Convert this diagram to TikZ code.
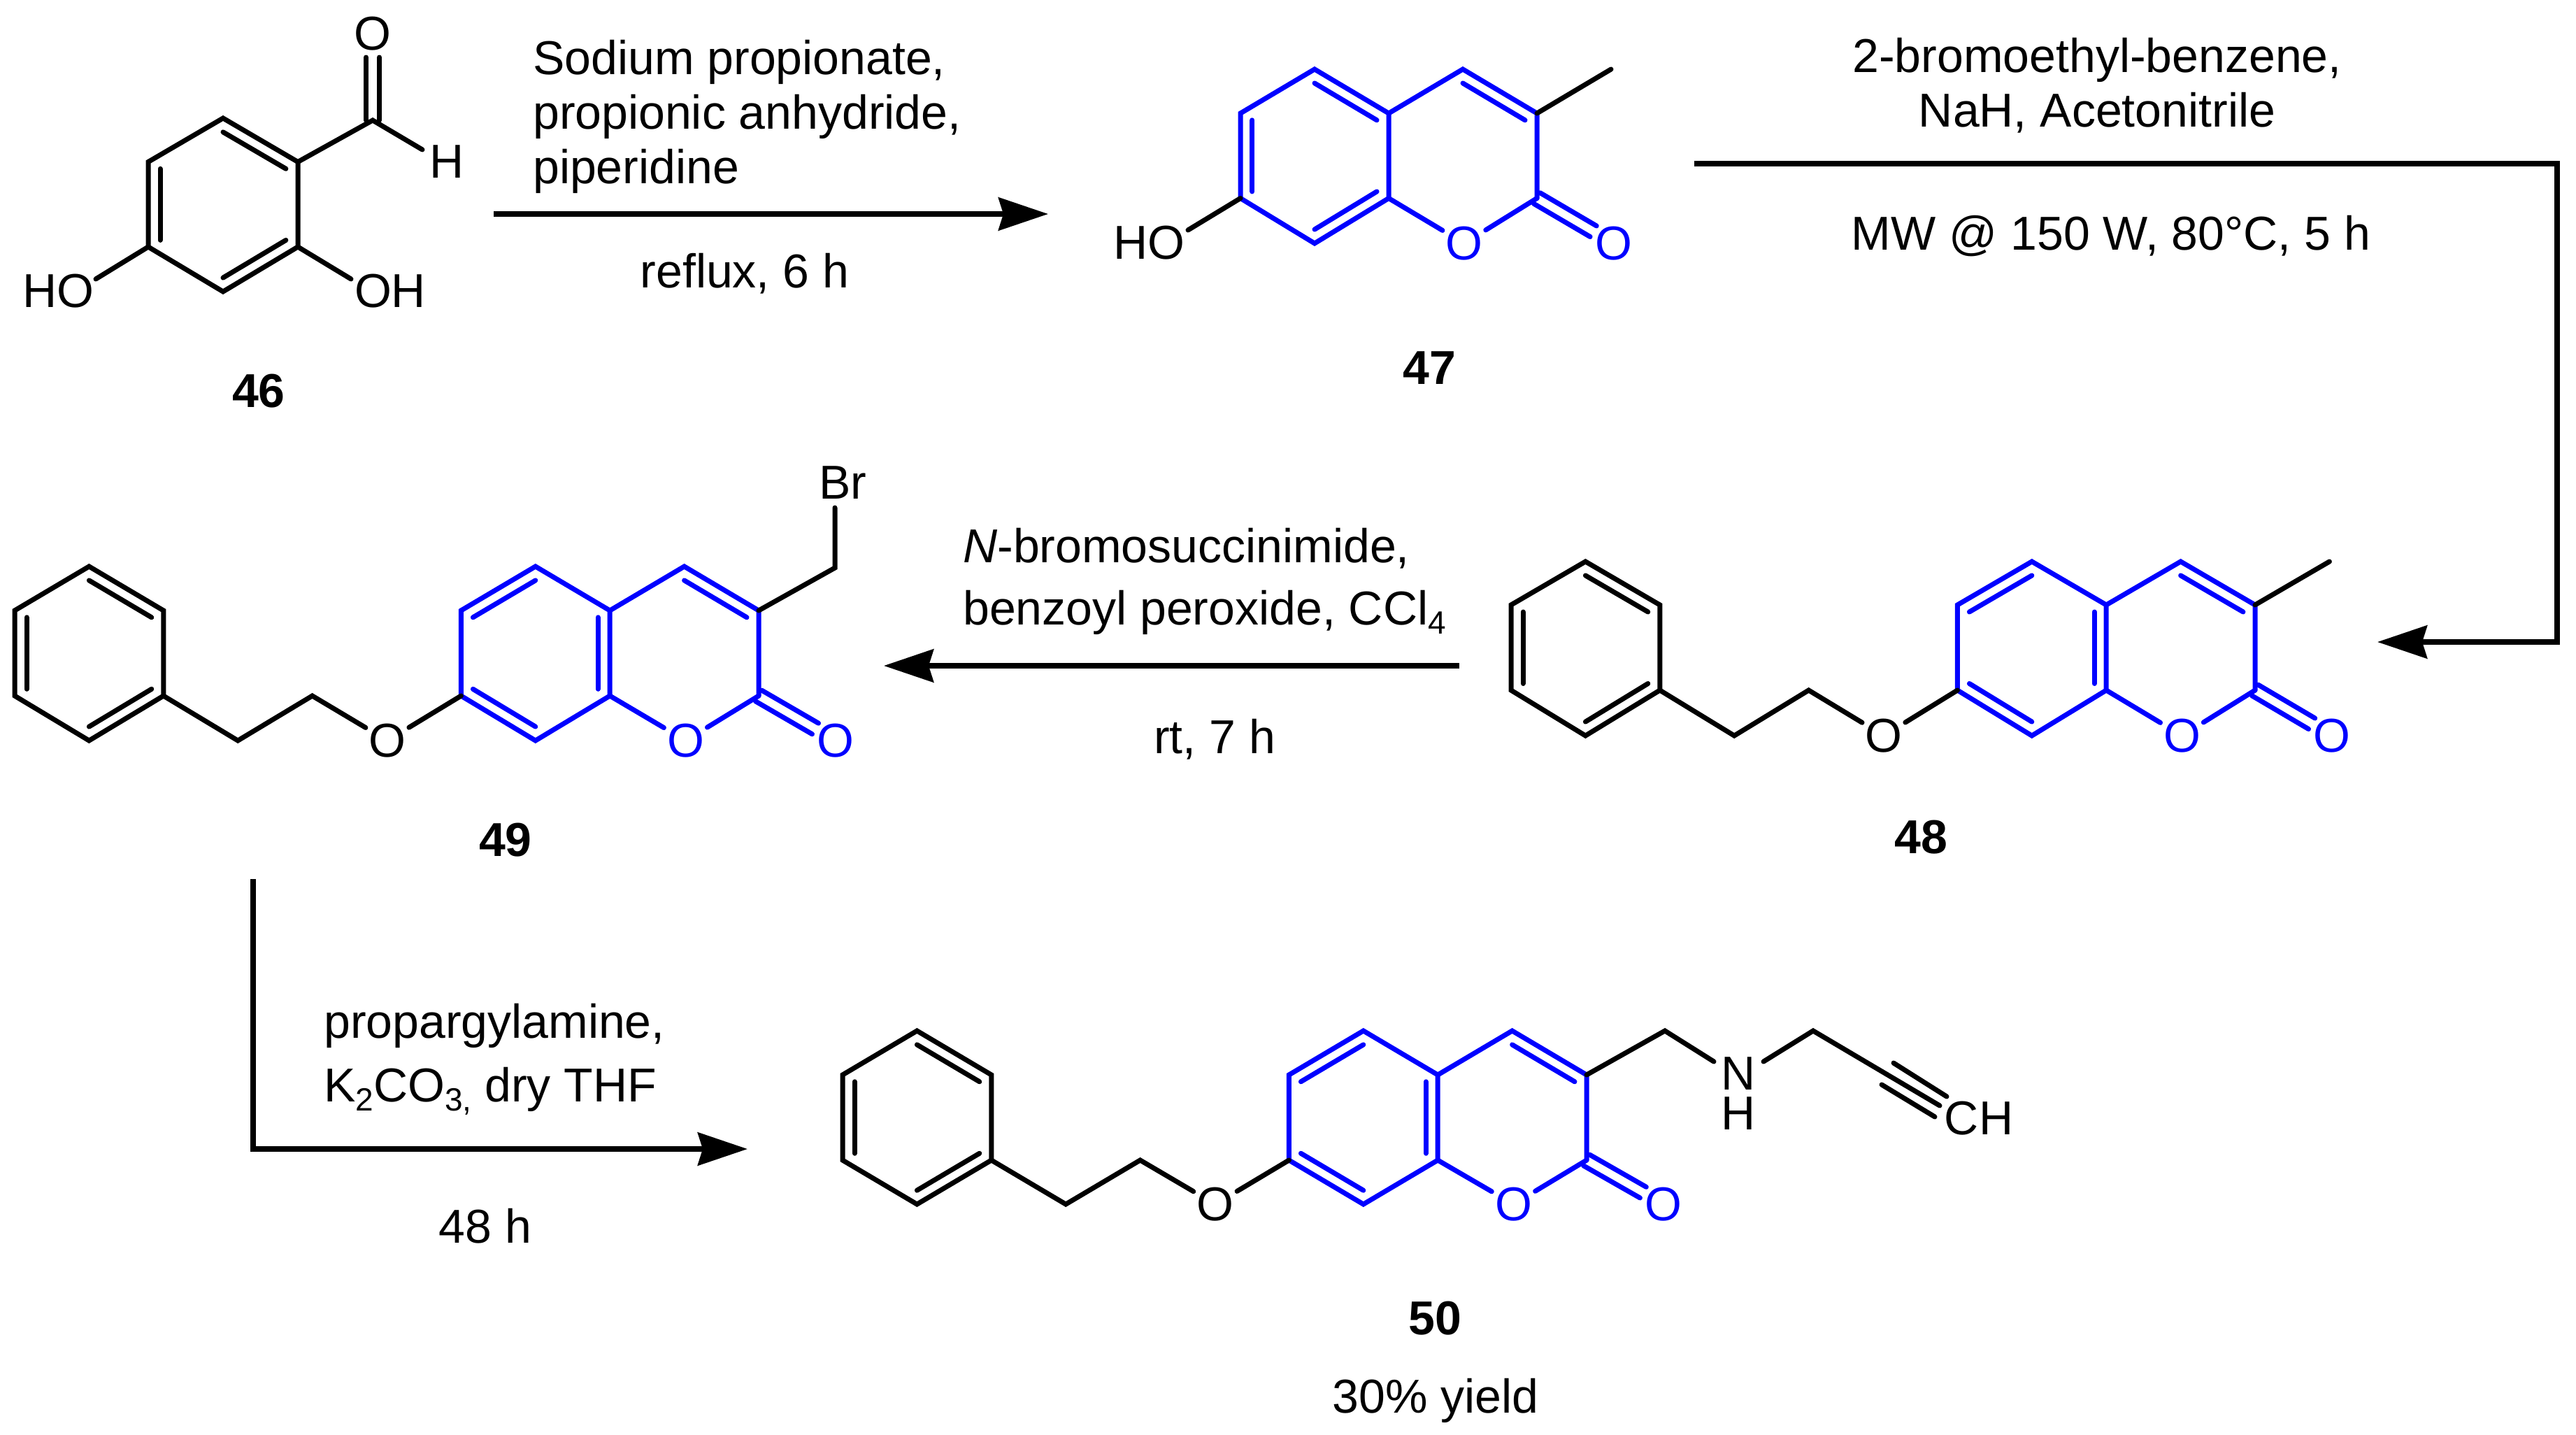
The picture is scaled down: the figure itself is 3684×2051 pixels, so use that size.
\documentclass[tikz,border=0pt]{standalone}
\usepackage{fontspec}
\setmainfont{Liberation Sans}
\usetikzlibrary{calc,arrows.meta}
\definecolor{cblue}{RGB}{0,0,255}
\tikzset{
  bond/.style={line width=7pt,black,line cap=round,line join=miter},
  bbond/.style={bond,cblue},
  atomO/.style={circle,inner sep=0pt,minimum size=72pt,font=\fontsize{68}{78}\selectfont},
  txt/.style={inner sep=0pt,align=center,font=\fontsize{68}{78}\selectfont},
  lab/.style={inner sep=0pt,font=\fontsize{68}{78}\selectfont\bfseries},
  rxn/.style={line width=7.5pt,black,line join=miter,-{Stealth[length=71pt,width=47pt,inset=7pt]}}
}
\newcommand{\grid}[7]{%
  \foreach \k in {0,...,11}{\foreach \r/\y in {0/#4,1/#5,2/#6,3/#7}{%
    \coordinate (#1-\k-\r) at ({#2+\k*#3},\y);}}}
\newcommand{\innerb}[4]{\draw[#1] ($(#2)!.16!(#4)$) -- ($(#3)!.16!(#4)$);}
\newcommand{\exoO}[4]{% style, carbon, oxygen node, half spacing
  \draw[#1,shorten >=34pt] ($(#2)!#4!90:(#3.center)$) -- ($(#3.center)!#4!-90:(#2)$);
  \draw[#1,shorten >=34pt] ($(#2)!#4!-90:(#3.center)$) -- ($(#3.center)!#4!90:(#2)$);}
\newcommand{\phenyl}[1]{%
  \coordinate (#1-cp) at ($(#1-1-0)!.5!(#1-1-3)$);
  \draw[bond] (#1-0-1) -- (#1-1-0) -- (#1-2-1) -- (#1-2-2) -- (#1-1-3) -- (#1-0-2) -- cycle;
  \innerb{bond}{#1-0-1}{#1-0-2}{#1-cp}
  \innerb{bond}{#1-1-0}{#1-2-1}{#1-cp}
  \innerb{bond}{#1-2-2}{#1-1-3}{#1-cp}}
\newcommand{\coumcore}[1]{%
  \coordinate (#1-ca) at ($(#1-7-0)!.5!(#1-7-3)$);
  \coordinate (#1-cb) at ($(#1-9-0)!.5!(#1-9-3)$);
  \node[atomO,text=cblue,xshift=2pt] (#1-Or) at (#1-9-3) {O};
  \node[atomO,text=cblue,xshift=4pt] (#1-Oe) at (#1-11-3) {O};
  \draw[bbond] (#1-6-1) -- (#1-7-0) -- (#1-8-1) -- (#1-8-2) -- (#1-7-3) -- (#1-6-2) -- cycle;
  \draw[bbond] (#1-8-1) -- (#1-9-0) -- (#1-10-1) -- (#1-10-2);
  \draw[bbond] (#1-8-2) -- (#1-Or);
  \draw[bbond] (#1-10-2) -- (#1-Or);
  \innerb{bbond}{#1-9-0}{#1-10-1}{#1-cb}
  \exoO{bbond}{#1-10-2}{#1-Oe}{9pt}}
\newcommand{\coumA}[1]{\coumcore{#1}%
  \innerb{bbond}{#1-7-0}{#1-8-1}{#1-ca}
  \innerb{bbond}{#1-6-1}{#1-6-2}{#1-ca}
  \innerb{bbond}{#1-7-3}{#1-8-2}{#1-ca}}
\newcommand{\coumB}[1]{\coumcore{#1}%
  \innerb{bbond}{#1-6-1}{#1-7-0}{#1-ca}
  \innerb{bbond}{#1-8-1}{#1-8-2}{#1-ca}
  \innerb{bbond}{#1-6-2}{#1-7-3}{#1-ca}}
\newcommand{\ether}[1]{%
  \node[atomO,xshift=1pt] (#1-Oa) at (#1-5-3) {O};
  \draw[bond] (#1-2-2) -- (#1-3-3) -- (#1-4-2) -- (#1-Oa);
  \draw[bond] (#1-Oa) -- (#1-6-2);}
\newcommand{\sbt}[1]{\raisebox{-13pt}{\fontsize{46}{46}\selectfont #1}}
\begin{document}
\begin{tikzpicture}[x=1pt,y=-1pt]
\useasboundingbox (0,0) rectangle (3684,2051);
% ---- 46
\grid{a}{-430}{107}{169}{231.5}{353}{417}
\coordinate (a-c) at ($(a-7-0)!.5!(a-7-3)$);
\node[atomO] (a-O) at (533,48) {O};
\node[txt] (a-H) at (639,231) {H};
\node[txt] (a-HO) at (83,416) {HO};
\node[txt] (a-OH) at (558,416) {OH};
\coordinate (a-C) at (533,172);
\coordinate (a-eH) at (604,214);
\coordinate (a-eHO) at (137,399);
\coordinate (a-eOH) at (502,399);
\draw[bond] (a-6-1) -- (a-7-0) -- (a-8-1) -- (a-8-2) -- (a-7-3) -- (a-6-2) -- cycle;
\innerb{bond}{a-6-1}{a-6-2}{a-c}
\innerb{bond}{a-7-0}{a-8-1}{a-c}
\innerb{bond}{a-8-2}{a-7-3}{a-c}
\draw[bond] (a-8-1) -- (a-C) -- (a-eH);
\draw[bond] (a-6-2) -- (a-eHO);
\draw[bond] (a-8-2) -- (a-eOH);
\exoO{bond}{a-C}{a-O}{9.5pt}
\node[lab] (a-n) at (370,559) {46};
% ---- 47
\grid{b}{1138}{106}{99}{162}{283.5}{348}
\coumA{b}
\node[txt] (b-HO) at (1643,347) {HO};
\coordinate (b-eHO) at (1699,329);
\draw[bond] (b-6-2) -- (b-eHO);
\draw[bond] (b-10-1) -- (b-11-0);
\node[lab] (b-n) at (2044,526) {47};
% ---- 48
\grid{c}{2161}{106.4}{803}{865}{987}{1052}
\phenyl{c}\coumB{c}\ether{c}
\draw[bond] (c-10-1) -- (c-11-0);
\node[lab] (c-n) at (2747,1197) {48};
% ---- 49
\grid{d}{21}{106.4}{810}{873}{995}{1059}
\phenyl{d}\coumB{d}\ether{d}
\node[txt] (d-Br) at (1205,690) {Br};
\coordinate (d-C) at (1194,812);
\coordinate (d-eBr) at (1194,726);
\draw[bond] (d-10-1) -- (d-C) -- (d-eBr);
\node[lab] (d-n) at (723,1201) {49};
% ---- 50
\grid{e}{1205}{106.4}{1474}{1537}{1659}{1722}
\phenyl{e}\coumB{e}\ether{e}
\node[txt] (e-N) at (2486,1564) {N\\[-21pt]H};
\node[txt] (e-CH) at (2830,1599) {CH};
\coordinate (e-C1) at (2381,1474);
\coordinate (e-C2) at (2593,1474);
\coordinate (e-eN1) at (2451,1518);
\coordinate (e-eN2) at (2522,1518);
\coordinate (e-e3) at (2774,1581);
\coordinate (e-u1) at (2708,1520);
\coordinate (e-u2) at (2784,1568);
\coordinate (e-l1) at (2691,1551);
\coordinate (e-l2) at (2767,1597);
\draw[bond] (e-10-1) -- (e-C1) -- (e-eN1);
\draw[bond] (e-eN2) -- (e-C2) -- (e-e3);
\draw[bond] (e-u1) -- (e-u2);
\draw[bond] (e-l1) -- (e-l2);
\node[lab] (e-n) at (2052,1885) {50};
\node[txt] (e-y) at (2053,2003) {30\% yield};
% ---- reactions
\coordinate (r1a) at (706,306); \coordinate (r1b) at (1499,306);
\draw[rxn] (r1a) -- (r1b);
\node[txt,anchor=west,align=left] (t1) at (762,167) {Sodium propionate,\\propionic anhydride,\\piperidine};
\node[txt] (t1b) at (1065,391) {reflux, 6 h};
\coordinate (r2a) at (2423,234); \coordinate (r2c) at (3657,234); \coordinate (r2b) at (3400,918);
\draw[rxn] (r2a) -- (r2c) -- (r2c |- r2b) -- (r2b);
\node[txt] (t2) at (2999,122) {2-bromoethyl-benzene,\\NaH, Acetonitrile};
\node[txt] (t2b) at (3019,338) {MW @ 150 W, 80°C, 5 h};
\coordinate (r3a) at (2087,952); \coordinate (r3b) at (1264,952);
\draw[rxn] (r3a) -- (r3b);
\node[txt,anchor=west,align=left] (t3) at (1377,831) {\textit{N}-bromosuccinimide,\\[11pt]benzoyl peroxide, CCl\sbt{4}};
\node[txt] (t3b) at (1737,1057) {rt, 7 h};
\coordinate (r4a) at (362,1257); \coordinate (r4c) at (362,1643); \coordinate (r4b) at (1069,1643);
\draw[rxn] (r4a) -- (r4c) -- (r4b);
\node[txt,anchor=west,align=left] (t4) at (463,1515) {propargylamine,\\[13pt]K\sbt{2}CO\sbt{3,} dry THF};
\node[txt] (t4b) at (694,1753) {48 h};
\end{tikzpicture}
\end{document}
